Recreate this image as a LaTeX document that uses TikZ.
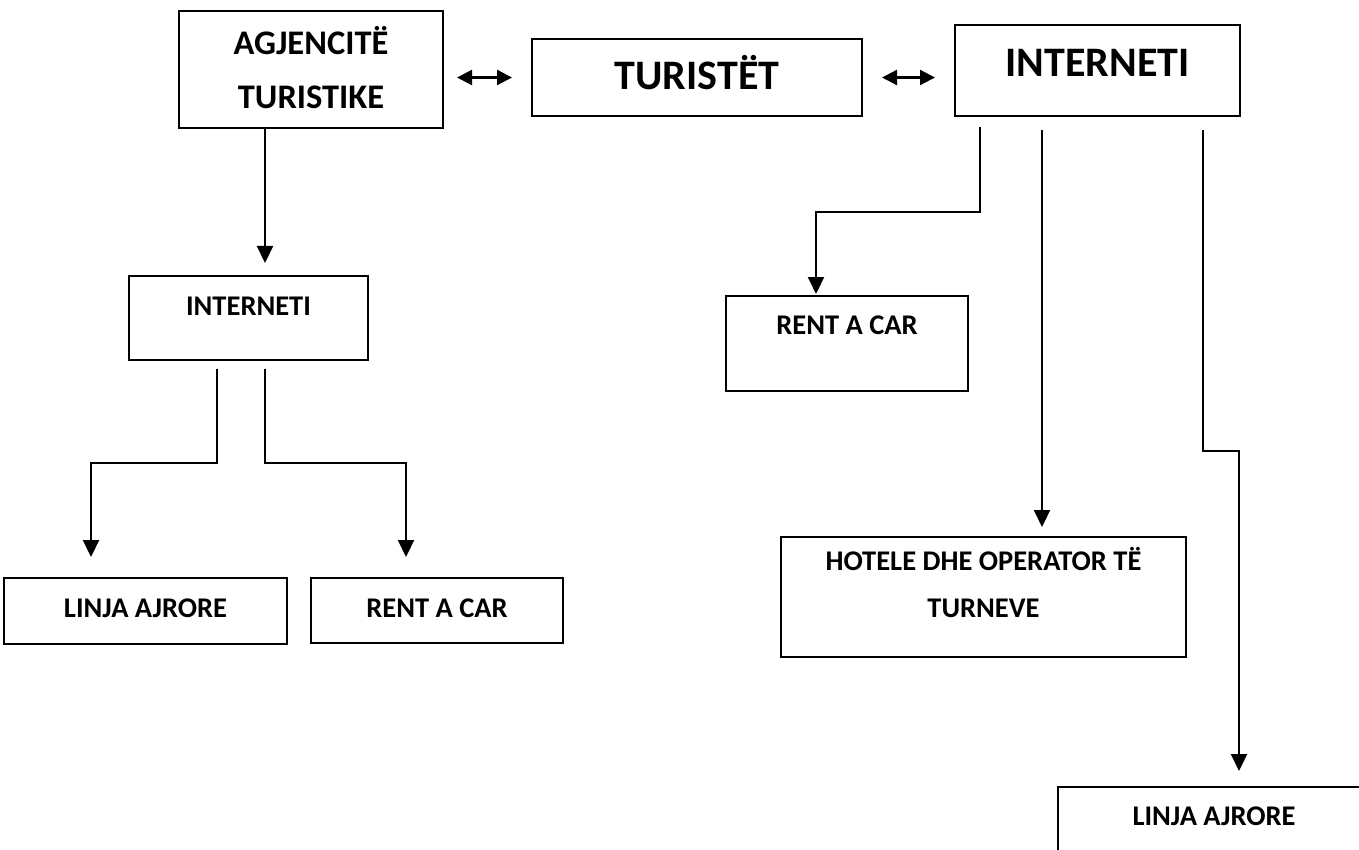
\documentclass[tikz,border=0pt]{standalone}
\usepackage{fontspec}
\setmainfont{Carlito}
\usetikzlibrary{arrows.meta}
\begin{document}
\begin{tikzpicture}[x=1pt,y=-1pt,
  box/.style={draw, line width=2.2pt, inner sep=0pt, outer sep=0pt, fill=white},
  txt/.style={inner sep=0pt, anchor=base},
  big/.style={font=\fontsize{42}{50}\selectfont\bfseries},
  mid/.style={font=\fontsize{34.5}{40}\selectfont\bfseries},
  small/.style={font=\fontsize{28.5}{34}\selectfont\bfseries},
  conn/.style={line width=2.2pt, -{Triangle[length=17pt,width=16pt]}},
  dbl/.style={line width=2.2pt, {Triangle[length=15pt,width=15pt]}-{Triangle[length=15pt,width=15pt]}}]
\useasboundingbox (0,0) rectangle (1359,850);
\clip (0,0) rectangle (1359,850);
\fill[white] (0,0) rectangle (1359,850);

% boxes
\node[box, minimum width=264pt, minimum height=117pt] (ag) at (311,69.5) {};
\node[box, minimum width=330pt, minimum height=77pt] (tu) at (697,77.5) {};
\node[box, minimum width=285pt, minimum height=91pt] (in1) at (1097.5,70.5) {};
\node[box, minimum width=239pt, minimum height=84pt] (in2) at (248.5,318) {};
\node[box, minimum width=283pt, minimum height=66pt] (la1) at (145.5,611) {};
\node[box, minimum width=252pt, minimum height=65pt] (rc1) at (437,610.5) {};
\node[box, minimum width=242pt, minimum height=95pt] (rc2) at (847,343.5) {};
\node[box, minimum width=405pt, minimum height=120pt] (ho) at (983.5,597) {};
\node[box, minimum width=312pt, minimum height=93pt] (la2) at (1214,833.5) {};

% texts
\node[txt, mid] (agt1) at (311,55) {AGJENCITË};
\node[txt, mid] (agt2) at (311,109) {TURISTIKE};
\node[txt, big] (tut) at (697,90) {TURISTËT};
\node[txt, big] (in1t) at (1097.5,77) {INTERNETI};
\node[txt, small] (in2t) at (248.5,315) {INTERNETI};
\node[txt, small] (la1t) at (145.5,617) {LINJA AJRORE};
\node[txt, small] (rc1t) at (437,617) {RENT A CAR};
\node[txt, small] (rc2t) at (847,334) {RENT A CAR};
\node[txt, small] (hot1) at (983.5,570) {HOTELE DHE OPERATOR TË};
\node[txt, small] (hot2) at (983.5,617) {TURNEVE};
\node[txt, small] (la2t) at (1214,825) {LINJA AJRORE};

% bend points
\coordinate (a1) at (265,0);
\coordinate (j1) at (217,463);
\coordinate (j2) at (91,463);
\coordinate (j3) at (265,463);
\coordinate (j4) at (406,463);
\coordinate (j5) at (980,212);
\coordinate (j6) at (816,212);
\coordinate (j7) at (1042,0);
\coordinate (j8) at (1203,451);
\coordinate (j9) at (1239,451);

% connectors
\draw[dbl, shorten <=14pt, shorten >=20pt] (ag.east |- tu.west) -- (tu.west);
\draw[dbl, shorten <=20pt, shorten >=20pt] (tu.east) -- (in1.west |- tu.east);
\draw[conn, shorten >=13pt] (ag.south -| a1) -- (in2.north -| a1);
\draw[conn, shorten <=9pt, shorten >=21pt] (in2.south -| j1) -- (j1) -- (j2) -- (la1.north -| j2);
\draw[conn, shorten <=9pt, shorten >=21pt] (in2.south -| j3) -- (j3) -- (j4) -- (rc1.north -| j4);
\draw[conn, shorten <=11pt, shorten >=2pt] (in1.south -| j5) -- (j5) -- (j6) -- (rc2.north -| j6);
\draw[conn, shorten <=14pt, shorten >=10pt] (in1.south -| j7) -- (ho.north -| j7);
\draw[conn, shorten <=14pt, shorten >=16pt] (in1.south -| j8) -- (j8) -- (j9) -- (la2.north -| j9);
\end{tikzpicture}
\end{document}
